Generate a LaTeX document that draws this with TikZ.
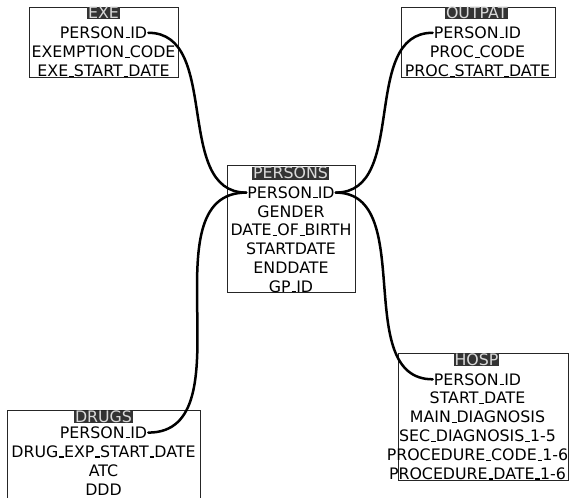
\documentclass[tikz,border=0pt]{standalone}
\usepackage{fontspec}
\setmainfont{DejaVu Sans}
\usetikzlibrary{positioning}
\newcommand{\usc}{\leavevmode\kern.06em\vbox{\hrule width.3em height.07em}}

\begin{document}
\begin{tikzpicture}[
  x=1pt, y=-1pt,
  every node/.style={font=\fontsize{15.8}{19}\selectfont},
  table/.style={rectangle, draw=black!85, line width=0.8pt, anchor=north west, inner sep=0pt},
  title/.style={fill=black!80, text=white!85!black, inner sep=0.7pt, text height=11pt, text depth=0pt},
  field/.style={anchor=base, inner xsep=1pt, inner ysep=0pt, text height=11.4pt, text depth=0pt},
  link/.style={line width=2.5pt, line cap=round}
]
\useasboundingbox (0,0) rectangle (569,497);

% Table frames
\node[table, minimum width=149pt, minimum height=70pt] (exe) at (29,7) {};
\node[table, minimum width=154pt, minimum height=70pt] (outpat) at (401,7) {};
\node[table, minimum width=128pt, minimum height=127pt] (persons) at (227,165) {};
\node[table, minimum width=170pt, minimum height=127pt] (hosp) at (398,353) {};
\node[table, minimum width=193pt, minimum height=120pt] (drugs) at (7,410) {};

% Titles
\node[title] (exe-t) at (103.5,13.3) {EXE};
\node[title] (outpat-t) at (476.7,13.3) {OUTPAT};
\node[title] (persons-t) at (290.5,173.3) {PERSONS};
\node[title] (hosp-t) at (476.5,359.5) {HOSP};
\node[title] (drugs-t) at (103.5,416.7) {DRUGS};

% Fields
\foreach \f [count=\i] in {PERSON\usc ID, EXEMPTION\usc CODE, EXE\usc START\usc DATE}
  \node[field] (exe-\i) at (103.5,19.3+19.2*\i) {\f};
\foreach \f [count=\i] in {PERSON\usc ID, PROC\usc CODE, PROC\usc START\usc DATE}
  \node[field] (outpat-\i) at (477.5,19.3+19.2*\i) {\f};
\foreach \f [count=\i] in {PERSON\usc ID, GENDER, DATE\usc OF\usc BIRTH, STARTDATE, ENDDATE, GP\usc ID}
  \node[field] (persons-\i) at (291,179.5+18.8*\i) {\f};
\foreach \f [count=\i] in {PERSON\usc ID, START\usc DATE, MAIN\usc DIAGNOSIS, SEC\usc DIAGNOSIS\usc 1-5, PROCEDURE\usc CODE\usc 1-6, PROCEDURE\usc DATE\usc 1-6}
  \node[field] (hosp-\i) at (477.5,366.1+18.9*\i) {\f};
\foreach \f [count=\i] in {PERSON\usc ID, DRUG\usc EXP\usc START\usc DATE, ATC, DDD}
  \node[field] (drugs-\i) at (103.5,419.1+19.2*\i) {\f};

% Links
\draw[link] (exe-1.east) to[out=0,in=180] (persons-1.west);
\draw[link] (drugs-1.east) to[out=0,in=180] (persons-1.west);
\draw[link] (persons-1.east) to[out=0,in=180] (outpat-1.west);
\draw[link] (persons-1.east) to[out=0,in=180] (hosp-1.west);

\end{tikzpicture}
\end{document}
